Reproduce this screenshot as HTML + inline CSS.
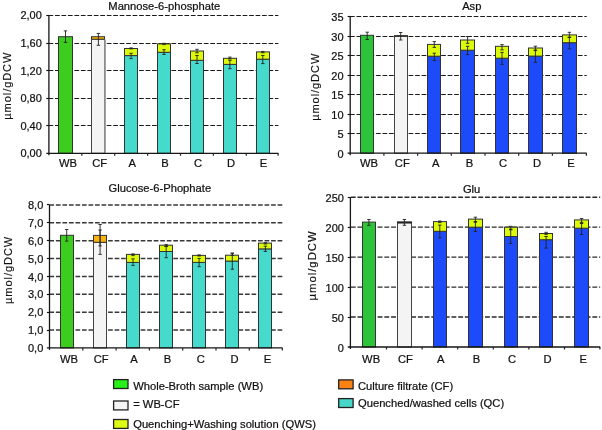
<!DOCTYPE html>
<html><head><meta charset="utf-8"><style>
html,body{margin:0;padding:0;background:#fff;}
svg{display:block;will-change:transform;}
.t{font-family:"Liberation Sans", sans-serif;font-size:11px;fill:#111;stroke:#111;stroke-width:0.22px;}
.yt{font-family:"Liberation Sans", sans-serif;font-size:11px;letter-spacing:0.95px;fill:#111;stroke:#111;stroke-width:0.15px;}
.tt{font-family:"Liberation Sans", sans-serif;font-size:11.2px;fill:#111;stroke:#111;stroke-width:0.22px;}
.lg{font-family:"Liberation Sans", sans-serif;font-size:11.2px;fill:#111;stroke:#111;stroke-width:0.22px;}
.xl{font-family:"Liberation Sans", sans-serif;font-size:11.2px;fill:#111;stroke:#111;stroke-width:0.22px;}
</style></head><body>
<svg width="602" height="430" viewBox="0 0 602 430">
<rect width="602" height="430" fill="#fff"/>
<line x1="48.53" y1="125.5" x2="278.4" y2="125.5" stroke="#1a1a1a" stroke-width="1.15" stroke-dasharray="4.7 1.77"/>
<line x1="48.53" y1="98.5" x2="278.4" y2="98.5" stroke="#1a1a1a" stroke-width="1.15" stroke-dasharray="4.7 1.77"/>
<line x1="48.53" y1="70.5" x2="278.4" y2="70.5" stroke="#1a1a1a" stroke-width="1.15" stroke-dasharray="4.7 1.77"/>
<line x1="48.53" y1="43.5" x2="278.4" y2="43.5" stroke="#1a1a1a" stroke-width="1.15" stroke-dasharray="4.7 1.77"/>
<line x1="48.53" y1="15.5" x2="278.4" y2="15.5" stroke="#1a1a1a" stroke-width="1.15" stroke-dasharray="4.7 1.77"/>
<rect x="58.5" y="36.7" width="14" height="116.6" fill="#3ccd1e" stroke="#333" stroke-width="1"/>
<path d="M65.5 30.9V42.4M63.8 30.9H67.2M63.8 42.4H67.2" stroke="#222" stroke-width="0.9" fill="none"/>
<rect x="91.5" y="39.2" width="13" height="114.1" fill="#f4f4f4" stroke="#444" stroke-width="1"/>
<rect x="91.5" y="36.7" width="13" height="2.5" fill="#f8b40a" stroke="#333" stroke-width="1"/>
<path d="M98.4 33.4V45.3M96.7 33.4H100.1M96.7 45.3H100.1" stroke="#222" stroke-width="0.9" fill="none"/>
<rect x="124.5" y="55.6" width="13" height="97.7" fill="#46dacd" stroke="#333" stroke-width="1"/>
<rect x="124.5" y="48.5" width="13" height="7.1" fill="#dcfa0a" stroke="#333" stroke-width="1"/>
<path d="M131.1 53.3V58.6M129.4 53.3H132.8M129.4 58.6H132.8" stroke="#222" stroke-width="0.9" fill="none"/>
<path d="M131.1 47.9V48.9M129.4 47.9H132.8M129.4 48.9H132.8" stroke="#222" stroke-width="0.9" fill="none"/>
<rect x="157.5" y="52.3" width="13" height="101" fill="#46dacd" stroke="#333" stroke-width="1"/>
<rect x="157.5" y="43.9" width="13" height="8.4" fill="#dcfa0a" stroke="#333" stroke-width="1"/>
<path d="M164 49.7V54.4M162.3 49.7H165.7M162.3 54.4H165.7" stroke="#222" stroke-width="0.9" fill="none"/>
<path d="M164 43.3V44.6M162.3 43.3H165.7M162.3 44.6H165.7" stroke="#222" stroke-width="0.9" fill="none"/>
<rect x="190.5" y="60.3" width="13" height="93" fill="#46dacd" stroke="#333" stroke-width="1"/>
<rect x="190.5" y="51" width="13" height="9.3" fill="#dcfa0a" stroke="#333" stroke-width="1"/>
<path d="M197 55.5V63.5M195.3 55.5H198.7M195.3 63.5H198.7" stroke="#222" stroke-width="0.9" fill="none"/>
<path d="M197 49.3V52.8M195.3 49.3H198.7M195.3 52.8H198.7" stroke="#222" stroke-width="0.9" fill="none"/>
<rect x="223.5" y="64.4" width="13" height="88.9" fill="#46dacd" stroke="#333" stroke-width="1"/>
<rect x="223.5" y="58.3" width="13" height="6.1" fill="#dcfa0a" stroke="#333" stroke-width="1"/>
<path d="M229.9 60.3V68.7M228.2 60.3H231.6M228.2 68.7H231.6" stroke="#222" stroke-width="0.9" fill="none"/>
<path d="M229.9 57.1V58.9M228.2 57.1H231.6M228.2 58.9H231.6" stroke="#222" stroke-width="0.9" fill="none"/>
<rect x="256.5" y="59.2" width="13" height="94.1" fill="#46dacd" stroke="#333" stroke-width="1"/>
<rect x="256.5" y="51.9" width="13" height="7.3" fill="#dcfa0a" stroke="#333" stroke-width="1"/>
<path d="M262.8 55.5V63.6M261.1 55.5H264.5M261.1 63.6H264.5" stroke="#222" stroke-width="0.9" fill="none"/>
<path d="M262.8 51.4V52.8M261.1 51.4H264.5M261.1 52.8H264.5" stroke="#222" stroke-width="0.9" fill="none"/>
<line x1="104.9" y1="39.6" x2="104.9" y2="152.8" stroke="#8c8c8c" stroke-width="1.8"/>
<line x1="48.9" y1="15.5" x2="48.9" y2="155.3" stroke="#151515" stroke-width="1.3"/>
<line x1="46.3" y1="153.3" x2="278.4" y2="153.3" stroke="#151515" stroke-width="1.3"/>
<line x1="46.3" y1="125.5" x2="48.9" y2="125.5" stroke="#111" stroke-width="1.15"/>
<line x1="46.3" y1="98.5" x2="48.9" y2="98.5" stroke="#111" stroke-width="1.15"/>
<line x1="46.3" y1="70.5" x2="48.9" y2="70.5" stroke="#111" stroke-width="1.15"/>
<line x1="46.3" y1="43.5" x2="48.9" y2="43.5" stroke="#111" stroke-width="1.15"/>
<line x1="46.3" y1="15.5" x2="48.9" y2="15.5" stroke="#111" stroke-width="1.15"/>
<line x1="81.8" y1="153.3" x2="81.8" y2="155.8" stroke="#222" stroke-width="1.2"/>
<line x1="114.7" y1="153.3" x2="114.7" y2="155.8" stroke="#222" stroke-width="1.2"/>
<line x1="147.6" y1="153.3" x2="147.6" y2="155.8" stroke="#222" stroke-width="1.2"/>
<line x1="180.5" y1="153.3" x2="180.5" y2="155.8" stroke="#222" stroke-width="1.2"/>
<line x1="213.4" y1="153.3" x2="213.4" y2="155.8" stroke="#222" stroke-width="1.2"/>
<line x1="246.3" y1="153.3" x2="246.3" y2="155.8" stroke="#222" stroke-width="1.2"/>
<line x1="278.1" y1="153.3" x2="278.1" y2="155.8" stroke="#222" stroke-width="1.2"/>
<text x="41.8" y="157.25" text-anchor="end" class="t">0,00</text>
<text x="41.8" y="129.69" text-anchor="end" class="t">0,40</text>
<text x="41.8" y="102.13" text-anchor="end" class="t">0,80</text>
<text x="41.8" y="74.57" text-anchor="end" class="t">1,20</text>
<text x="41.8" y="47.01" text-anchor="end" class="t">1,60</text>
<text x="41.8" y="19.45" text-anchor="end" class="t">2,00</text>
<text x="67.9" y="166.8" text-anchor="middle" class="xl">WB</text>
<text x="99.75" y="166.8" text-anchor="middle" class="xl">CF</text>
<text x="132.2" y="166.8" text-anchor="middle" class="xl">A</text>
<text x="165.1" y="166.8" text-anchor="middle" class="xl">B</text>
<text x="198" y="166.8" text-anchor="middle" class="xl">C</text>
<text x="231" y="166.8" text-anchor="middle" class="xl">D</text>
<text x="263.5" y="166.8" text-anchor="middle" class="xl">E</text>
<text x="164.3" y="10.4" text-anchor="middle" class="tt">Mannose-6-phosphate</text>
<text transform="translate(10.5 85.7) rotate(-90)" text-anchor="middle" class="yt" style="font-size:11px">µmol/gDCW</text>
<line x1="350" y1="133.5" x2="586.7" y2="133.5" stroke="#1a1a1a" stroke-width="1.15" stroke-dasharray="4.7 1.81"/>
<line x1="350" y1="114.5" x2="586.7" y2="114.5" stroke="#1a1a1a" stroke-width="1.15" stroke-dasharray="4.7 1.81"/>
<line x1="350" y1="94.5" x2="586.7" y2="94.5" stroke="#1a1a1a" stroke-width="1.15" stroke-dasharray="4.7 1.81"/>
<line x1="350" y1="75.5" x2="586.7" y2="75.5" stroke="#1a1a1a" stroke-width="1.15" stroke-dasharray="4.7 1.81"/>
<line x1="350" y1="55.5" x2="586.7" y2="55.5" stroke="#1a1a1a" stroke-width="1.15" stroke-dasharray="4.7 1.81"/>
<line x1="350" y1="36.5" x2="586.7" y2="36.5" stroke="#1a1a1a" stroke-width="1.15" stroke-dasharray="4.7 1.81"/>
<line x1="350" y1="16.5" x2="586.7" y2="16.5" stroke="#1a1a1a" stroke-width="1.15" stroke-dasharray="4.7 1.81"/>
<rect x="360.5" y="35.3" width="13" height="117.9" fill="#2dc33a" stroke="#333" stroke-width="1"/>
<path d="M367.2 32.2V39.5M365.5 32.2H368.9M365.5 39.5H368.9" stroke="#222" stroke-width="0.9" fill="none"/>
<rect x="394.5" y="36.2" width="13" height="117" fill="#f4f4f4" stroke="#444" stroke-width="1"/>
<rect x="394.5" y="35.6" width="13" height="0.8" fill="#f8b40a" stroke="#333" stroke-width="1"/>
<path d="M400.7 32.5V40M399 32.5H402.4M399 40H402.4" stroke="#222" stroke-width="0.9" fill="none"/>
<rect x="427.5" y="56.2" width="13" height="97" fill="#1e4bfa" stroke="#333" stroke-width="1"/>
<rect x="427.5" y="44.4" width="13" height="11.8" fill="#dcfa0a" stroke="#333" stroke-width="1"/>
<path d="M434.3 53.2V60.4M432.6 53.2H436M432.6 60.4H436" stroke="#222" stroke-width="0.9" fill="none"/>
<path d="M434.3 41.6V47.4M432.6 41.6H436M432.6 47.4H436" stroke="#222" stroke-width="0.9" fill="none"/>
<rect x="460.5" y="50.2" width="14" height="103" fill="#1e4bfa" stroke="#333" stroke-width="1"/>
<rect x="460.5" y="40" width="14" height="10.2" fill="#dcfa0a" stroke="#333" stroke-width="1"/>
<path d="M467.6 46.3V54.6M465.9 46.3H469.3M465.9 54.6H469.3" stroke="#222" stroke-width="0.9" fill="none"/>
<path d="M467.6 36.6V43.3M465.9 36.6H469.3M465.9 43.3H469.3" stroke="#222" stroke-width="0.9" fill="none"/>
<rect x="495.5" y="58.2" width="13" height="95" fill="#1e4bfa" stroke="#333" stroke-width="1"/>
<rect x="495.5" y="46.3" width="13" height="11.9" fill="#dcfa0a" stroke="#333" stroke-width="1"/>
<path d="M502 52.4V64.4M500.3 52.4H503.7M500.3 64.4H503.7" stroke="#222" stroke-width="0.9" fill="none"/>
<path d="M502 44.6V49.9M500.3 44.6H503.7M500.3 49.9H503.7" stroke="#222" stroke-width="0.9" fill="none"/>
<rect x="528.5" y="56.1" width="14" height="97.1" fill="#1e4bfa" stroke="#333" stroke-width="1"/>
<rect x="528.5" y="48" width="14" height="8.1" fill="#dcfa0a" stroke="#333" stroke-width="1"/>
<path d="M535.4 50V62.4M533.7 50H537.1M533.7 62.4H537.1" stroke="#222" stroke-width="0.9" fill="none"/>
<path d="M535.4 46.2V50.6M533.7 46.2H537.1M533.7 50.6H537.1" stroke="#222" stroke-width="0.9" fill="none"/>
<rect x="562.5" y="42.7" width="14" height="110.5" fill="#1e4bfa" stroke="#333" stroke-width="1"/>
<rect x="562.5" y="34.9" width="14" height="7.8" fill="#dcfa0a" stroke="#333" stroke-width="1"/>
<path d="M569.4 37.1V48.8M567.7 37.1H571.1M567.7 48.8H571.1" stroke="#222" stroke-width="0.9" fill="none"/>
<path d="M569.4 32.3V37.5M567.7 32.3H571.1M567.7 37.5H571.1" stroke="#222" stroke-width="0.9" fill="none"/>
<line x1="350.2" y1="16.6" x2="350.2" y2="155.2" stroke="#151515" stroke-width="1.3"/>
<line x1="347.6" y1="153.2" x2="586.7" y2="153.2" stroke="#151515" stroke-width="1.3"/>
<line x1="347.6" y1="133.5" x2="350.2" y2="133.5" stroke="#111" stroke-width="1.15"/>
<line x1="347.6" y1="114.5" x2="350.2" y2="114.5" stroke="#111" stroke-width="1.15"/>
<line x1="347.6" y1="94.5" x2="350.2" y2="94.5" stroke="#111" stroke-width="1.15"/>
<line x1="347.6" y1="75.5" x2="350.2" y2="75.5" stroke="#111" stroke-width="1.15"/>
<line x1="347.6" y1="55.5" x2="350.2" y2="55.5" stroke="#111" stroke-width="1.15"/>
<line x1="347.6" y1="36.5" x2="350.2" y2="36.5" stroke="#111" stroke-width="1.15"/>
<line x1="347.6" y1="16.5" x2="350.2" y2="16.5" stroke="#111" stroke-width="1.15"/>
<line x1="383.9" y1="153.2" x2="383.9" y2="155.7" stroke="#222" stroke-width="1.2"/>
<line x1="417.6" y1="153.2" x2="417.6" y2="155.7" stroke="#222" stroke-width="1.2"/>
<line x1="451.3" y1="153.2" x2="451.3" y2="155.7" stroke="#222" stroke-width="1.2"/>
<line x1="485" y1="153.2" x2="485" y2="155.7" stroke="#222" stroke-width="1.2"/>
<line x1="518.7" y1="153.2" x2="518.7" y2="155.7" stroke="#222" stroke-width="1.2"/>
<line x1="552.4" y1="153.2" x2="552.4" y2="155.7" stroke="#222" stroke-width="1.2"/>
<line x1="586.4" y1="153.2" x2="586.4" y2="155.7" stroke="#222" stroke-width="1.2"/>
<text x="343.6" y="157.6" text-anchor="end" class="t">0</text>
<text x="343.6" y="138.09" text-anchor="end" class="t">5</text>
<text x="343.6" y="118.57" text-anchor="end" class="t">10</text>
<text x="343.6" y="99.06" text-anchor="end" class="t">15</text>
<text x="343.6" y="79.54" text-anchor="end" class="t">20</text>
<text x="343.6" y="60.03" text-anchor="end" class="t">25</text>
<text x="343.6" y="40.51" text-anchor="end" class="t">30</text>
<text x="343.6" y="21" text-anchor="end" class="t">35</text>
<text x="368.9" y="167" text-anchor="middle" class="xl">WB</text>
<text x="402.3" y="167" text-anchor="middle" class="xl">CF</text>
<text x="435.7" y="167" text-anchor="middle" class="xl">A</text>
<text x="469.6" y="167" text-anchor="middle" class="xl">B</text>
<text x="503.1" y="167" text-anchor="middle" class="xl">C</text>
<text x="537" y="167" text-anchor="middle" class="xl">D</text>
<text x="570.9" y="167" text-anchor="middle" class="xl">E</text>
<text x="471.8" y="10" text-anchor="middle" class="tt">Asp</text>
<text transform="translate(318.6 86.8) rotate(-90)" text-anchor="middle" class="yt" style="font-size:11px">µmol/gDCW</text>
<line x1="49.4" y1="330.02" x2="282.6" y2="330.02" stroke="#383838" stroke-width="1.5" stroke-dasharray="4.7 1.82"/>
<line x1="49.4" y1="312.15" x2="282.6" y2="312.15" stroke="#383838" stroke-width="1.5" stroke-dasharray="4.7 1.82"/>
<line x1="49.4" y1="294.27" x2="282.6" y2="294.27" stroke="#383838" stroke-width="1.5" stroke-dasharray="4.7 1.82"/>
<line x1="49.4" y1="276.4" x2="282.6" y2="276.4" stroke="#383838" stroke-width="1.5" stroke-dasharray="4.7 1.82"/>
<line x1="49.4" y1="258.52" x2="282.6" y2="258.52" stroke="#383838" stroke-width="1.5" stroke-dasharray="4.7 1.82"/>
<line x1="49.4" y1="240.65" x2="282.6" y2="240.65" stroke="#383838" stroke-width="1.5" stroke-dasharray="4.7 1.82"/>
<line x1="49.4" y1="222.78" x2="282.6" y2="222.78" stroke="#383838" stroke-width="1.5" stroke-dasharray="4.7 1.82"/>
<line x1="49.4" y1="204.9" x2="282.6" y2="204.9" stroke="#383838" stroke-width="1.5" stroke-dasharray="4.7 1.82"/>
<rect x="60.5" y="235.3" width="13" height="112.6" fill="#3ccd1e" stroke="#333" stroke-width="1"/>
<path d="M66.7 229.5V241.1M65 229.5H68.4M65 241.1H68.4" stroke="#222" stroke-width="0.9" fill="none"/>
<rect x="93.5" y="242.3" width="13" height="105.6" fill="#f4f4f4" stroke="#444" stroke-width="1"/>
<rect x="93.5" y="235.4" width="13" height="6.9" fill="#f8b40a" stroke="#333" stroke-width="1"/>
<path d="M100.1 224.5V245.9M98.4 224.5H101.8M98.4 245.9H101.8" stroke="#222" stroke-width="0.9" fill="none"/>
<path d="M100.1 230V254.4M98.4 230H101.8M98.4 254.4H101.8" stroke="#222" stroke-width="0.9" fill="none"/>
<rect x="126.5" y="262.4" width="13" height="85.5" fill="#46dacd" stroke="#333" stroke-width="1"/>
<rect x="126.5" y="254.4" width="13" height="8" fill="#dcfa0a" stroke="#333" stroke-width="1"/>
<path d="M133 258.9V265.4M131.3 258.9H134.7M131.3 265.4H134.7" stroke="#222" stroke-width="0.9" fill="none"/>
<path d="M133 253.9V255.6M131.3 253.9H134.7M131.3 255.6H134.7" stroke="#222" stroke-width="0.9" fill="none"/>
<rect x="159.5" y="251.5" width="13" height="96.4" fill="#46dacd" stroke="#333" stroke-width="1"/>
<rect x="159.5" y="245.2" width="13" height="6.3" fill="#dcfa0a" stroke="#333" stroke-width="1"/>
<path d="M166.2 246.5V257.7M164.5 246.5H167.9M164.5 257.7H167.9" stroke="#222" stroke-width="0.9" fill="none"/>
<path d="M166.2 244.6V246.2M164.5 244.6H167.9M164.5 246.2H167.9" stroke="#222" stroke-width="0.9" fill="none"/>
<rect x="192.5" y="262.4" width="13" height="85.5" fill="#46dacd" stroke="#333" stroke-width="1"/>
<rect x="192.5" y="255.4" width="13" height="7" fill="#dcfa0a" stroke="#333" stroke-width="1"/>
<path d="M199.1 258.4V266.7M197.4 258.4H200.8M197.4 266.7H200.8" stroke="#222" stroke-width="0.9" fill="none"/>
<path d="M199.1 254.9V256M197.4 254.9H200.8M197.4 256H200.8" stroke="#222" stroke-width="0.9" fill="none"/>
<rect x="225.5" y="261.1" width="13" height="86.8" fill="#46dacd" stroke="#333" stroke-width="1"/>
<rect x="225.5" y="255.2" width="13" height="5.9" fill="#dcfa0a" stroke="#333" stroke-width="1"/>
<path d="M232.3 253.2V269.2M230.6 253.2H234M230.6 269.2H234" stroke="#222" stroke-width="0.9" fill="none"/>
<path d="M232.3 253.2V255.4M230.6 253.2H234M230.6 255.4H234" stroke="#222" stroke-width="0.9" fill="none"/>
<rect x="258.5" y="248.9" width="13" height="99" fill="#46dacd" stroke="#333" stroke-width="1"/>
<rect x="258.5" y="243.1" width="13" height="5.8" fill="#dcfa0a" stroke="#333" stroke-width="1"/>
<path d="M265.4 246.2V251.4M263.7 246.2H267.1M263.7 251.4H267.1" stroke="#222" stroke-width="0.9" fill="none"/>
<path d="M265.4 242.7V244M263.7 242.7H267.1M263.7 244H267.1" stroke="#222" stroke-width="0.9" fill="none"/>
<line x1="49.5" y1="204.9" x2="49.5" y2="349.9" stroke="#151515" stroke-width="1.3"/>
<line x1="46.9" y1="347.9" x2="282.6" y2="347.9" stroke="#151515" stroke-width="1.3"/>
<line x1="46.9" y1="330.5" x2="49.5" y2="330.5" stroke="#111" stroke-width="1.15"/>
<line x1="46.9" y1="312.5" x2="49.5" y2="312.5" stroke="#111" stroke-width="1.15"/>
<line x1="46.9" y1="294.5" x2="49.5" y2="294.5" stroke="#111" stroke-width="1.15"/>
<line x1="46.9" y1="276.5" x2="49.5" y2="276.5" stroke="#111" stroke-width="1.15"/>
<line x1="46.9" y1="258.5" x2="49.5" y2="258.5" stroke="#111" stroke-width="1.15"/>
<line x1="46.9" y1="240.5" x2="49.5" y2="240.5" stroke="#111" stroke-width="1.15"/>
<line x1="46.9" y1="222.5" x2="49.5" y2="222.5" stroke="#111" stroke-width="1.15"/>
<line x1="46.9" y1="204.5" x2="49.5" y2="204.5" stroke="#111" stroke-width="1.15"/>
<line x1="82.8" y1="347.9" x2="82.8" y2="350.4" stroke="#222" stroke-width="1.2"/>
<line x1="116.1" y1="347.9" x2="116.1" y2="350.4" stroke="#222" stroke-width="1.2"/>
<line x1="149.4" y1="347.9" x2="149.4" y2="350.4" stroke="#222" stroke-width="1.2"/>
<line x1="182.7" y1="347.9" x2="182.7" y2="350.4" stroke="#222" stroke-width="1.2"/>
<line x1="216" y1="347.9" x2="216" y2="350.4" stroke="#222" stroke-width="1.2"/>
<line x1="249.3" y1="347.9" x2="249.3" y2="350.4" stroke="#222" stroke-width="1.2"/>
<line x1="282.3" y1="347.9" x2="282.3" y2="350.4" stroke="#222" stroke-width="1.2"/>
<text x="43.3" y="352.1" text-anchor="end" class="t">0,0</text>
<text x="43.3" y="334.22" text-anchor="end" class="t">1,0</text>
<text x="43.3" y="316.35" text-anchor="end" class="t">2,0</text>
<text x="43.3" y="298.47" text-anchor="end" class="t">3,0</text>
<text x="43.3" y="280.6" text-anchor="end" class="t">4,0</text>
<text x="43.3" y="262.72" text-anchor="end" class="t">5,0</text>
<text x="43.3" y="244.85" text-anchor="end" class="t">6,0</text>
<text x="43.3" y="226.97" text-anchor="end" class="t">7,0</text>
<text x="43.3" y="209.1" text-anchor="end" class="t">8,0</text>
<text x="68.9" y="363.4" text-anchor="middle" class="xl">WB</text>
<text x="101.2" y="363.4" text-anchor="middle" class="xl">CF</text>
<text x="134" y="363.4" text-anchor="middle" class="xl">A</text>
<text x="167.6" y="363.4" text-anchor="middle" class="xl">B</text>
<text x="200.7" y="363.4" text-anchor="middle" class="xl">C</text>
<text x="234.6" y="363.4" text-anchor="middle" class="xl">D</text>
<text x="267.5" y="363.4" text-anchor="middle" class="xl">E</text>
<text x="159.8" y="192.4" text-anchor="middle" class="tt">Glucose-6-Phophate</text>
<text transform="translate(12.2 269.9) rotate(-90)" text-anchor="middle" class="yt" style="font-size:11px">µmol/gDCW</text>
<line x1="350.8" y1="317.04" x2="600.2" y2="317.04" stroke="#2a2a2a" stroke-width="1.4" stroke-dasharray="4.9 1.81"/>
<line x1="350.8" y1="287.08" x2="600.2" y2="287.08" stroke="#2a2a2a" stroke-width="1.4" stroke-dasharray="4.9 1.81"/>
<line x1="350.8" y1="257.12" x2="600.2" y2="257.12" stroke="#2a2a2a" stroke-width="1.4" stroke-dasharray="4.9 1.81"/>
<line x1="350.8" y1="227.16" x2="600.2" y2="227.16" stroke="#2a2a2a" stroke-width="1.4" stroke-dasharray="4.9 1.81"/>
<line x1="350.8" y1="197.2" x2="600.2" y2="197.2" stroke="#2a2a2a" stroke-width="1.4" stroke-dasharray="4.9 1.81"/>
<rect x="362.5" y="222.1" width="13" height="124.9" fill="#2dc33a" stroke="#333" stroke-width="1"/>
<path d="M368.9 219.5V225.3M367.2 219.5H370.6M367.2 225.3H370.6" stroke="#222" stroke-width="0.9" fill="none"/>
<rect x="397.5" y="222.8" width="14" height="124.2" fill="#f4f4f4" stroke="#444" stroke-width="1"/>
<rect x="397.5" y="221.9" width="14" height="1" fill="#222" stroke="#222" stroke-width="1"/>
<path d="M404.4 219.5V225.3M402.7 219.5H406.1M402.7 225.3H406.1" stroke="#222" stroke-width="0.9" fill="none"/>
<rect x="433.5" y="231.3" width="13" height="115.7" fill="#1e4bfa" stroke="#333" stroke-width="1"/>
<rect x="433.5" y="221.6" width="13" height="9.7" fill="#dcfa0a" stroke="#333" stroke-width="1"/>
<path d="M439.8 225.1V237.9M438.1 225.1H441.5M438.1 237.9H441.5" stroke="#222" stroke-width="0.9" fill="none"/>
<path d="M439.8 221V222.6M438.1 221H441.5M438.1 222.6H441.5" stroke="#222" stroke-width="0.9" fill="none"/>
<rect x="468.5" y="227.2" width="14" height="119.8" fill="#1e4bfa" stroke="#333" stroke-width="1"/>
<rect x="468.5" y="219.1" width="14" height="8.1" fill="#dcfa0a" stroke="#333" stroke-width="1"/>
<path d="M475.4 221.6V231.5M473.7 221.6H477.1M473.7 231.5H477.1" stroke="#222" stroke-width="0.9" fill="none"/>
<path d="M475.4 217.2V222.2M473.7 217.2H477.1M473.7 222.2H477.1" stroke="#222" stroke-width="0.9" fill="none"/>
<rect x="504.5" y="236.5" width="13" height="110.5" fill="#1e4bfa" stroke="#333" stroke-width="1"/>
<rect x="504.5" y="227.2" width="13" height="9.3" fill="#dcfa0a" stroke="#333" stroke-width="1"/>
<path d="M510.7 229.2V243.5M509 229.2H512.4M509 243.5H512.4" stroke="#222" stroke-width="0.9" fill="none"/>
<path d="M510.7 226.3V229.8M509 226.3H512.4M509 229.8H512.4" stroke="#222" stroke-width="0.9" fill="none"/>
<rect x="539.5" y="239.7" width="13" height="107.3" fill="#1e4bfa" stroke="#333" stroke-width="1"/>
<rect x="539.5" y="233.5" width="13" height="6.2" fill="#dcfa0a" stroke="#333" stroke-width="1"/>
<path d="M546.1 236.5V248.1M544.4 236.5H547.8M544.4 248.1H547.8" stroke="#222" stroke-width="0.9" fill="none"/>
<path d="M546.1 232.3V234.4M544.4 232.3H547.8M544.4 234.4H547.8" stroke="#222" stroke-width="0.9" fill="none"/>
<rect x="574.5" y="228.2" width="14" height="118.8" fill="#1e4bfa" stroke="#333" stroke-width="1"/>
<rect x="574.5" y="219.9" width="14" height="8.3" fill="#dcfa0a" stroke="#333" stroke-width="1"/>
<path d="M581.6 222.4V234.5M579.9 222.4H583.3M579.9 234.5H583.3" stroke="#222" stroke-width="0.9" fill="none"/>
<path d="M581.6 218.5V223.5M579.9 218.5H583.3M579.9 223.5H583.3" stroke="#222" stroke-width="0.9" fill="none"/>
<line x1="350.4" y1="197.2" x2="350.4" y2="349" stroke="#151515" stroke-width="1.3"/>
<line x1="347.8" y1="347" x2="600.2" y2="347" stroke="#151515" stroke-width="1.3"/>
<line x1="347.8" y1="317.5" x2="350.4" y2="317.5" stroke="#111" stroke-width="1.15"/>
<line x1="347.8" y1="287.5" x2="350.4" y2="287.5" stroke="#111" stroke-width="1.15"/>
<line x1="347.8" y1="257.5" x2="350.4" y2="257.5" stroke="#111" stroke-width="1.15"/>
<line x1="347.8" y1="227.5" x2="350.4" y2="227.5" stroke="#111" stroke-width="1.15"/>
<line x1="347.8" y1="197.5" x2="350.4" y2="197.5" stroke="#111" stroke-width="1.15"/>
<line x1="386.5" y1="347" x2="386.5" y2="349.5" stroke="#222" stroke-width="1.2"/>
<line x1="422.1" y1="347" x2="422.1" y2="349.5" stroke="#222" stroke-width="1.2"/>
<line x1="457.7" y1="347" x2="457.7" y2="349.5" stroke="#222" stroke-width="1.2"/>
<line x1="493.3" y1="347" x2="493.3" y2="349.5" stroke="#222" stroke-width="1.2"/>
<line x1="528.9" y1="347" x2="528.9" y2="349.5" stroke="#222" stroke-width="1.2"/>
<line x1="564.5" y1="347" x2="564.5" y2="349.5" stroke="#222" stroke-width="1.2"/>
<line x1="599.9" y1="347" x2="599.9" y2="349.5" stroke="#222" stroke-width="1.2"/>
<text x="343.9" y="351.5" text-anchor="end" class="t">0</text>
<text x="343.9" y="321.54" text-anchor="end" class="t">50</text>
<text x="343.9" y="291.58" text-anchor="end" class="t">100</text>
<text x="343.9" y="261.62" text-anchor="end" class="t">150</text>
<text x="343.9" y="231.66" text-anchor="end" class="t">200</text>
<text x="343.9" y="201.7" text-anchor="end" class="t">250</text>
<text x="371.1" y="362.8" text-anchor="middle" class="xl">WB</text>
<text x="405.5" y="362.8" text-anchor="middle" class="xl">CF</text>
<text x="440.7" y="362.8" text-anchor="middle" class="xl">A</text>
<text x="476.5" y="362.8" text-anchor="middle" class="xl">B</text>
<text x="512.1" y="362.8" text-anchor="middle" class="xl">C</text>
<text x="547.6" y="362.8" text-anchor="middle" class="xl">D</text>
<text x="583.2" y="362.8" text-anchor="middle" class="xl">E</text>
<text x="471.6" y="192.7" text-anchor="middle" class="tt">Glu</text>
<text transform="translate(316 265.4) rotate(-90)" text-anchor="middle" class="yt" style="font-size:11.4px">µmol/gDCW</text>
<rect x="113.6" y="379.6" width="14.4" height="8.9" fill="#28f019" stroke="#222" stroke-width="1.3"/>
<text x="133.2" y="390.2" class="lg">Whole-Broth sample (WB)</text>
<rect x="113.6" y="401" width="14.4" height="8.9" fill="#f4f4f4" stroke="#222" stroke-width="1.3"/>
<text x="133.2" y="407.6" class="lg">= WB-CF</text>
<rect x="113.6" y="419.5" width="14.4" height="8.9" fill="#dcfc14" stroke="#222" stroke-width="1.3"/>
<text x="133.2" y="427.6" class="lg">Quenching+Washing solution (QWS)</text>
<rect x="338.7" y="379.9" width="14.4" height="8.9" fill="#fc8214" stroke="#222" stroke-width="1.3"/>
<text x="358" y="389.6" class="lg">Culture filtrate (CF)</text>
<rect x="338.7" y="398.6" width="14.4" height="8.9" fill="#46d7c8" stroke="#222" stroke-width="1.3"/>
<text x="358" y="407.2" class="lg">Quenched/washed cells (QC)</text>
</svg>
</body></html>
